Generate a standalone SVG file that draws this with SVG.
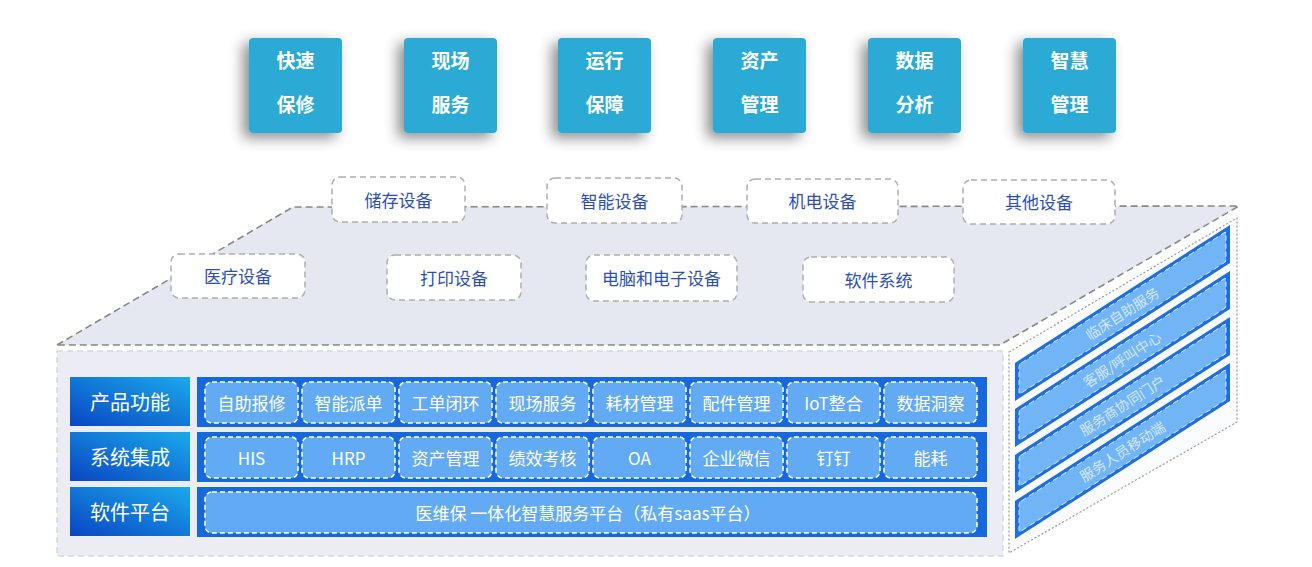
<svg xmlns="http://www.w3.org/2000/svg" width="1312" height="567" viewBox="0 0 1312 567">
<defs>
<filter id="sh" x="-50%" y="-50%" width="200%" height="200%">
<feDropShadow dx="-6" dy="5" stdDeviation="7" flood-color="#000" flood-opacity="0.45"/>
</filter>
<linearGradient id="lg" x1="0" y1="1" x2="1" y2="0">
<stop offset="0" stop-color="#0A45C2"/>
<stop offset="1" stop-color="#1AAAEC"/>
</linearGradient>
<style>
text{font-family:"Noto Sans CJK SC","Noto Sans",sans-serif;text-anchor:middle;dominant-baseline:central}
.tb{fill:#2BAAD4}
.tt{fill:#fff;font-size:19px;font-weight:bold}
.dev{fill:#fff;stroke:#AFAFAF;stroke-width:1.5;stroke-dasharray:6 4}
.dt{fill:#2D4FB3;font-size:17px}
.edge{fill:none;stroke:#888;stroke-width:1.6;stroke-dasharray:7 4}
.lab{fill:url(#lg)}
.lt{fill:#fff;font-size:20px}
.bar{fill:#1768DC}
.it{fill:#63AAF4;stroke:#fff;stroke-width:1.5;stroke-dasharray:5 3}
.itt{fill:#fff;font-size:17px}
.bo{fill:#1E6EE0}
.bi{fill:#72B5F6;stroke:#fff;stroke-opacity:0.8;stroke-width:1;stroke-dasharray:5 3}
.bt{fill:#fff;fill-opacity:0.7;font-size:14px}
</style>
</defs>
<rect width="1312" height="567" fill="#fff"/>

<g id="top-buttons">
<g id="btn1"><rect class="tb" x="249" y="38" width="93" height="95" rx="4" filter="url(#sh)"/><text class="tt" x="295.5" y="59">快速</text><text class="tt" x="295.5" y="103">保修</text></g>
<g id="btn2"><rect class="tb" x="404" y="38" width="93" height="95" rx="4" filter="url(#sh)"/><text class="tt" x="450.5" y="59">现场</text><text class="tt" x="450.5" y="103">服务</text></g>
<g id="btn3"><rect class="tb" x="558" y="38" width="93" height="95" rx="4" filter="url(#sh)"/><text class="tt" x="604.5" y="59">运行</text><text class="tt" x="604.5" y="103">保障</text></g>
<g id="btn4"><rect class="tb" x="713" y="38" width="93" height="95" rx="4" filter="url(#sh)"/><text class="tt" x="759.5" y="59">资产</text><text class="tt" x="759.5" y="103">管理</text></g>
<g id="btn5"><rect class="tb" x="868" y="38" width="93" height="95" rx="4" filter="url(#sh)"/><text class="tt" x="914.5" y="59">数据</text><text class="tt" x="914.5" y="103">分析</text></g>
<g id="btn6"><rect class="tb" x="1023" y="38" width="93" height="95" rx="4" filter="url(#sh)"/><text class="tt" x="1069.5" y="59">智慧</text><text class="tt" x="1069.5" y="103">管理</text></g>
</g>

<g id="cube">
<polygon id="top-face" points="293,207 1239,206 1000,345 57,345" fill="#E5E7F1"/>
<g id="connectors">
<polyline class="edge" points="57,345 293,207 1239,206 1000,345 57,345"/>
</g>
<rect id="front-face" x="57" y="351" width="946" height="205" fill="#ECEDF4" stroke="#D6D8E1" stroke-width="1.5" stroke-dasharray="6 4"/>
<polygon id="right-face" points="1009,352 1237,218 1237,422 1009,553" fill="#FBFCFE" stroke="#A09A92" stroke-width="1.2" stroke-dasharray="2 2"/>
</g>

<g id="devices">
<g id="d-storage"><rect class="dev" x="332" y="177" width="133" height="45" rx="8"/><text class="dt" x="398.5" y="199">储存设备</text></g>
<g id="d-smart"><rect class="dev" x="547" y="178" width="135" height="45" rx="8"/><text class="dt" x="614.5" y="200">智能设备</text></g>
<g id="d-mech"><rect class="dev" x="747" y="179" width="151" height="44" rx="8"/><text class="dt" x="822.5" y="200">机电设备</text></g>
<g id="d-other"><rect class="dev" x="963" y="180" width="152" height="44" rx="8"/><text class="dt" x="1039" y="201">其他设备</text></g>
<g id="d-medical"><rect class="dev" x="171" y="254" width="134" height="44" rx="8"/><text class="dt" x="238" y="275">医疗设备</text></g>
<g id="d-print"><rect class="dev" x="387" y="255" width="134" height="45" rx="8"/><text class="dt" x="454" y="277">打印设备</text></g>
<g id="d-pc"><rect class="dev" x="586" y="255" width="151" height="46" rx="8"/><text class="dt" x="661.5" y="277">电脑和电子设备</text></g>
<g id="d-soft"><rect class="dev" x="803" y="257" width="151" height="45" rx="8"/><text class="dt" x="878.5" y="279">软件系统</text></g>
</g>

<g id="row-product">
<rect class="lab" x="70" y="377" width="120" height="49"/><text class="lt" x="130" y="401">产品功能</text>
<rect class="bar" x="197" y="377" width="790" height="50"/>
<rect class="it" x="205" y="382" width="93" height="41" rx="7"/><text class="itt" x="251.5" y="402">自助报修</text>
<rect class="it" x="302" y="382" width="93" height="41" rx="7"/><text class="itt" x="348.5" y="402">智能派单</text>
<rect class="it" x="399" y="382" width="93" height="41" rx="7"/><text class="itt" x="445.5" y="402">工单闭环</text>
<rect class="it" x="496" y="382" width="93" height="41" rx="7"/><text class="itt" x="542.5" y="402">现场服务</text>
<rect class="it" x="593" y="382" width="93" height="41" rx="7"/><text class="itt" x="639.5" y="402">耗材管理</text>
<rect class="it" x="690" y="382" width="93" height="41" rx="7"/><text class="itt" x="736.5" y="402">配件管理</text>
<rect class="it" x="787" y="382" width="93" height="41" rx="7"/><text class="itt" x="833.5" y="402">IoT整合</text>
<rect class="it" x="884" y="382" width="93" height="41" rx="7"/><text class="itt" x="930.5" y="402">数据洞察</text>
</g>

<g id="row-system">
<rect class="lab" x="70" y="432" width="120" height="49"/><text class="lt" x="130" y="456">系统集成</text>
<rect class="bar" x="197" y="432" width="790" height="50"/>
<rect class="it" x="205" y="437" width="93" height="41" rx="7"/><text class="itt" x="251.5" y="457">HIS</text>
<rect class="it" x="302" y="437" width="93" height="41" rx="7"/><text class="itt" x="348.5" y="457">HRP</text>
<rect class="it" x="399" y="437" width="93" height="41" rx="7"/><text class="itt" x="445.5" y="457">资产管理</text>
<rect class="it" x="496" y="437" width="93" height="41" rx="7"/><text class="itt" x="542.5" y="457">绩效考核</text>
<rect class="it" x="593" y="437" width="93" height="41" rx="7"/><text class="itt" x="639.5" y="457">OA</text>
<rect class="it" x="690" y="437" width="93" height="41" rx="7"/><text class="itt" x="736.5" y="457">企业微信</text>
<rect class="it" x="787" y="437" width="93" height="41" rx="7"/><text class="itt" x="833.5" y="457">钉钉</text>
<rect class="it" x="884" y="437" width="93" height="41" rx="7"/><text class="itt" x="930.5" y="457">能耗</text>
</g>

<g id="row-platform">
<rect class="lab" x="70" y="487" width="120" height="49"/><text class="lt" x="130" y="511">软件平台</text>
<rect class="bar" x="197" y="487" width="790" height="50"/>
<rect class="it" x="205" y="492" width="772" height="41" rx="7"/><text class="itt" x="588" y="512">医维保 一体化智慧服务平台（私有saas平台）</text>
</g>

<g id="side-bands">
<g id="band1"><g transform="translate(1015,363) skewY(-32.7)"><rect class="bo" x="0" y="0" width="215" height="38"/><rect class="bi" x="4" y="4" width="207" height="30" rx="2"/></g><text class="bt" transform="translate(1122,313) rotate(-32.7)">临床自助服务</text></g>
<g id="band2"><g transform="translate(1015,409) skewY(-32.7)"><rect class="bo" x="0" y="0" width="215" height="38"/><rect class="bi" x="4" y="4" width="207" height="30" rx="2"/></g><text class="bt" transform="translate(1122,359) rotate(-32.7)">客服/呼叫中心</text></g>
<g id="band3"><g transform="translate(1015,455) skewY(-32.7)"><rect class="bo" x="0" y="0" width="215" height="38"/><rect class="bi" x="4" y="4" width="207" height="30" rx="2"/></g><text class="bt" transform="translate(1122,405) rotate(-32.7)">服务商协同门户</text></g>
<g id="band4"><g transform="translate(1015,501) skewY(-32.7)"><rect class="bo" x="0" y="0" width="215" height="38"/><rect class="bi" x="4" y="4" width="207" height="30" rx="2"/></g><text class="bt" transform="translate(1122,451) rotate(-32.7)">服务人员移动端</text></g>
</g>
</svg>
